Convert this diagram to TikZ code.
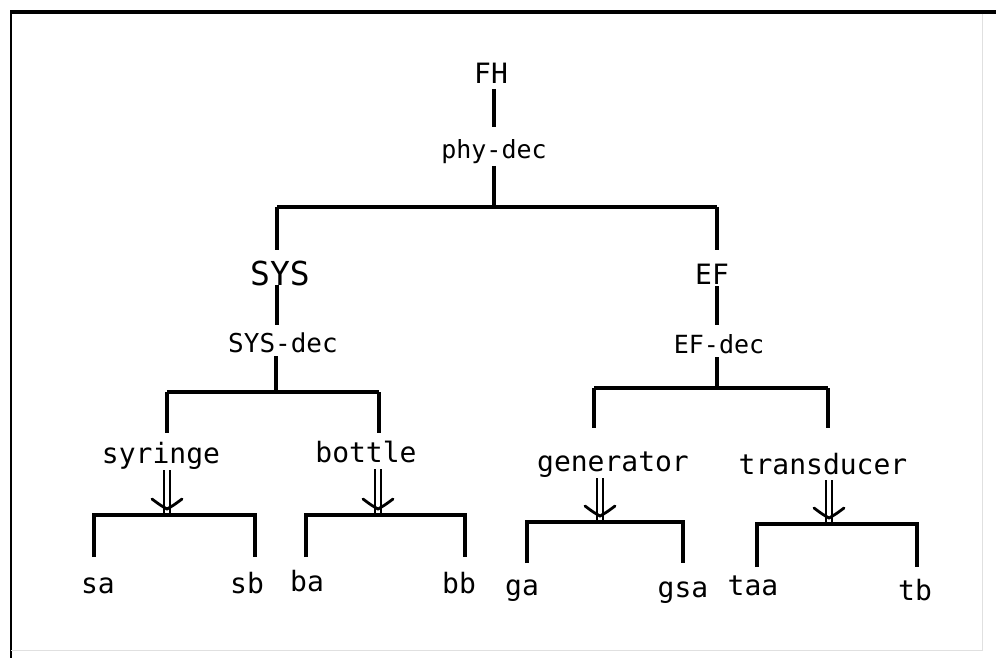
\documentclass[tikz,border=0pt]{standalone}
\usepackage{fontspec}
\setmonofont{DejaVu Sans Mono}
\begin{document}
\begin{tikzpicture}[x=1pt,y=-1pt,
  lbl/.style={font=\ttfamily\fontsize{#1}{#1}\selectfont, inner sep=0pt, anchor=base},
  lbl/.default=24,
  ln/.style={line width=3.2pt},
  dbl/.style={double, double distance=3.6pt, line width=2.6pt},
  vtip/.style={line width=2.8pt, line cap=round, line join=miter}
]
\useasboundingbox (0,0) rectangle (996,658);
\fill[white] (0,0) rectangle (996,658);
% frame
\draw[line width=3.4pt] (10,12) -- (996,12);
\draw[line width=2.4pt] (11,12) -- (11,658);
\draw[line width=1pt, black!12] (982,14) -- (982,650) -- (11,650);

% root
\node[lbl=28] (FH) at (491,84) {FH};
\node[lbl=25] (phy) at (494,158) {phy-dec};
\coordinate (r1) at (494,89);
\coordinate (r2) at (494,127);
\coordinate (r3) at (494,166);
\coordinate (bar0) at (494,207);
\coordinate (bl) at (277,207);
\coordinate (br) at (717,207);
\draw[ln] (r1) -- (r2);
\draw[ln] (r3) -- (bar0);
\draw[ln] (bl) -- (br);

% SYS branch
\node[lbl=33] (SYS) at (280,285) {SYS};
\node[lbl=26] (SYSd) at (283,352) {SYS-dec};
\coordinate (s1) at (277,250);
\coordinate (s2) at (277,285);
\coordinate (s3) at (277,325);
\coordinate (s4) at (276,356);
\coordinate (s5) at (276,392);
\draw[ln] (bl) -- (s1);
\draw[ln] (s2) -- (s3);
\draw[ln] (s4) -- (s5);
\coordinate (sbl) at (167,392);
\coordinate (sbr) at (379,392);
\draw[ln] (sbl) -- (sbr);
\coordinate (sdl) at (167,433);
\coordinate (sdr) at (379,433);
\draw[ln] (sbl) -- (sdl);
\draw[ln] (sbr) -- (sdr);

% EF branch
\node[lbl=28] (EF) at (712,284) {EF};
\node[lbl=25] (EFd) at (719,353) {EF-dec};
\coordinate (e1) at (717,250);
\coordinate (e2) at (717,286);
\coordinate (e3) at (717,325);
\coordinate (e4) at (717,357);
\coordinate (e5) at (717,388);
\draw[ln] (br) -- (e1);
\draw[ln] (e2) -- (e3);
\draw[ln] (e4) -- (e5);
\coordinate (ebl) at (594,388);
\coordinate (ebr) at (828,388);
\draw[ln] (ebl) -- (ebr);
\coordinate (edl) at (594,428);
\coordinate (edr) at (828,428);
\draw[ln] (ebl) -- (edl);
\draw[ln] (ebr) -- (edr);

% second level labels
\node[lbl=28] (syr) at (161,463) {syringe};
\node[lbl=28] (bot) at (366,462) {bottle};
\node[lbl=28] (gen) at (613,471) {generator};
\node[lbl=28] (tra) at (823,474) {transducer};

% double arrows
\foreach \n/\x/\t/\b in {1/167/470/509, 2/378/469/509, 3/600/478/516, 4/829/480/518}{
  \coordinate (a\n s) at (\x,\t);
  \coordinate (a\n e) at (\x,\b);
  \draw[dbl] (a\n s) -- ([yshift=-6pt]a\n e);
  \draw[vtip] ([shift={(-15,-10)}]a\n e) .. controls ([shift={(-7,-4)}]a\n e) .. (a\n e)
              .. controls ([shift={(7,-4)}]a\n e) .. ([shift={(15,-10)}]a\n e);
}

% lower brackets
\foreach \l/\r/\y/\d in {94/255/515/557, 306/465/515/557, 527/683/522/563, 757/917/524/567}{
  \draw[ln] (\l,\d) -- (\l,\y) -- (\r,\y) -- (\r,\d);
}

% leaves
\node[lbl=28] (sa) at (98,593) {sa};
\node[lbl=28] (sb) at (247,593) {sb};
\node[lbl=28] (ba) at (307,591) {ba};
\node[lbl=28] (bb) at (459,593) {bb};
\node[lbl=28] (ga) at (522,595) {ga};
\node[lbl=28] (gsa) at (683,597) {gsa};
\node[lbl=28] (taa) at (753,595) {taa};
\node[lbl=28] (tb) at (915,600) {tb};
\end{tikzpicture}
\end{document}
